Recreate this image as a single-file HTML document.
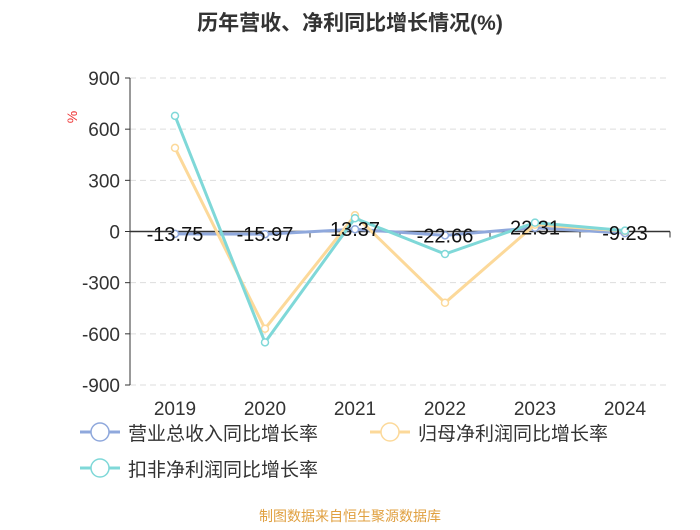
<!DOCTYPE html>
<html><head><meta charset="utf-8">
<style>
body{margin:0;background:#fff;font-family:"Liberation Sans","Noto Sans CJK SC",sans-serif;}
svg text{font-family:"Liberation Sans","Noto Sans CJK SC",sans-serif;}
</style></head>
<body>
<svg id="chart" width="700" height="525" xmlns="http://www.w3.org/2000/svg">
<text x="350" y="30" text-anchor="middle" font-size="21" font-weight="bold" fill="#333">历年营收、净利同比增长情况(%)</text>
<text x="77" y="117" font-size="14" fill="#e33" transform="rotate(-90 77 117)" text-anchor="middle">%</text>
<g id="grid"></g><g id="axes"></g><g id="series"></g><g id="labels"></g>
<g>
<g><line x1="80" y1="432" x2="120" y2="432" stroke="#8fa8dc" stroke-width="3"/><circle cx="100" cy="432" r="9" fill="#fff" stroke="#8fa8dc" stroke-width="1.5"/><text x="128" y="440" font-size="19" fill="#333">营业总收入同比增长率</text></g>
<g><line x1="370" y1="432" x2="410" y2="432" stroke="#fcd99a" stroke-width="3"/><circle cx="390" cy="432" r="9" fill="#fff" stroke="#fcd99a" stroke-width="1.5"/><text x="418" y="440" font-size="19" fill="#333">归母净利润同比增长率</text></g>
<g><line x1="80" y1="468" x2="120" y2="468" stroke="#7fd8d8" stroke-width="3"/><circle cx="100" cy="468" r="9" fill="#fff" stroke="#7fd8d8" stroke-width="1.5"/><text x="128" y="476" font-size="19" fill="#333">扣非净利润同比增长率</text></g>
</g>
<text x="350" y="521" text-anchor="middle" font-size="14" fill="#e0a040">制图数据来自恒生聚源数据库</text>
</svg>
<script>
const categories=["2019","2020","2021","2022","2023","2024"];
const revenue=[-13.75,-15.97,13.37,-22.66,22.31,-9.23];
const netProfit=[490,-570,95,-418,40,3];
const deducted=[678,-650,78,-132,52,5];
const yTicks=[900,600,300,0,-300,-600,-900];
const NS="http://www.w3.org/2000/svg";
const L=130,R=670,T=78,B=385;
const band=(R-L)/categories.length;
const x=i=>L+band*(i+0.5);
const y=v=>T+(900-v)/1800*(B-T);
function mk(tag,attrs,parent,text){const e=document.createElementNS(NS,tag);for(const k in attrs)e.setAttribute(k,attrs[k]);if(text!==undefined)e.textContent=text;document.getElementById(parent).appendChild(e);return e;}
yTicks.forEach(v=>{
 if(v!==0){const g=mk("line",{x1:L,x2:R,y1:y(v),y2:y(v),stroke:"#ddd","stroke-dasharray":"6,4"},"grid");
 
 }
 const tk=mk("line",{x1:L-5,x2:L,y1:y(v),y2:y(v),stroke:"#333"},"axes");
 
 
 const t=mk("text",{x:L-10,y:y(v)+7,"text-anchor":"end","font-size":"19",fill:"#333"},"axes",String(v));
 
 
});
const ya=mk("line",{x1:L,x2:L,y1:T,y2:B,stroke:"#333"},"axes");


const xa=mk("line",{x1:L,x2:R,y1:y(0),y2:y(0),stroke:"#333","stroke-width":"1.5"},"axes");


categories.forEach((c,i)=>{
 const tk=mk("line",{x1:L+band*(i+1),x2:L+band*(i+1),y1:y(0),y2:y(0)+6,stroke:"#333"},"axes");
 
 
 const t=mk("text",{x:x(i),y:415,"text-anchor":"middle","font-size":"19",fill:"#333"},"axes",c);
 
 
});
function series(vals,color,name){
 const p=mk("polyline",{points:vals.map((v,i)=>x(i)+","+y(v)).join(" "),fill:"none",stroke:color,"stroke-width":"3"},"series");
 
 
 vals.forEach((v,i)=>{const c=mk("circle",{cx:x(i),cy:y(v),r:3.5,fill:"#fff",stroke:color,"stroke-width":"1.5"},"series");
 
 });
}
series(revenue,"#8fa8dc","revenue");
series(netProfit,"#fcd99a","net-profit");
series(deducted,"#7fd8d8","deducted-profit");
revenue.forEach((v,i)=>{
 const t=mk("text",{x:x(i),y:y(v)+7,"text-anchor":"middle","font-size":"20",fill:"#111"},"labels",v.toFixed(2));
 
 
});
</script>
</body></html>
